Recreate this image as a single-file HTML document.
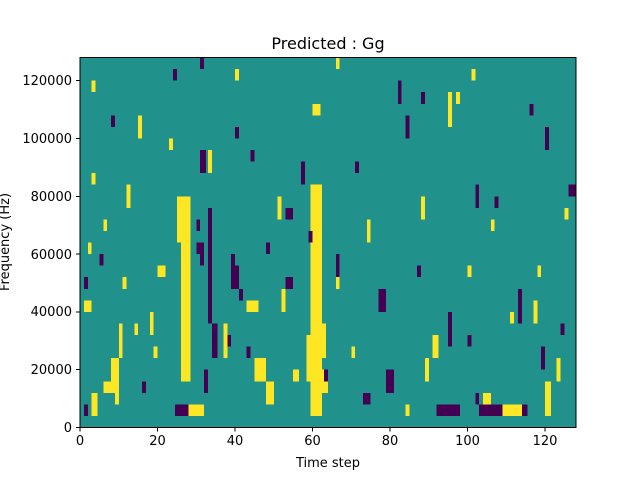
<!DOCTYPE html>
<html><head><style>
body{margin:0;background:#fff;width:640px;height:480px;overflow:hidden}
</style></head><body>
<svg width="640" height="480" xmlns="http://www.w3.org/2000/svg" font-family="DejaVu Sans, Liberation Sans, sans-serif">
<rect x="80" y="57.5" width="496" height="370" fill="#21918c"/>
<g transform="translate(80,57.5) scale(3.875,11.5625)" shape-rendering="crispEdges">
<g fill="#fde725">
<rect x="59.5" y="11" width="3" height="20"/>
<rect x="58.5" y="24" width="2" height="4"/>
<rect x="62" y="27" width="2" height="2"/>
<rect x="26" y="12" width="2.5" height="16"/>
<rect x="25" y="12" width="1" height="4"/>
<rect x="28" y="30" width="4" height="1"/>
<rect x="3" y="29" width="1.5" height="2"/>
<rect x="6" y="28" width="4" height="1"/>
<rect x="8" y="26" width="2" height="2"/>
<rect x="43" y="21" width="3" height="1"/>
<rect x="45" y="26" width="3" height="2"/>
<rect x="48" y="28" width="2" height="2"/>
<rect x="55" y="27" width="1.5" height="1"/>
<rect x="62" y="23" width="1.5" height="3"/>
<rect x="37" y="23" width="1" height="3"/>
<rect x="1" y="21" width="2" height="1"/>
<rect x="109" y="30" width="5" height="1"/>
<rect x="104" y="29" width="2" height="1"/>
<rect x="95" y="3" width="1" height="3"/>
<rect x="101" y="1" width="1" height="1"/>
<rect x="60" y="4" width="2" height="1"/>
<rect x="33" y="8" width="1" height="2"/>
<rect x="89" y="26" width="1" height="2"/>
<rect x="88" y="12" width="1" height="2"/>
<rect x="120" y="28" width="1.5" height="3"/>
<rect x="123" y="26" width="1" height="2"/>
<rect x="117" y="21" width="1" height="2"/>
<rect x="12" y="11" width="1" height="2"/>
<rect x="3" y="10" width="1" height="1"/>
<rect x="18" y="22" width="1" height="2"/>
<rect x="10" y="23" width="1" height="3"/>
<rect x="15" y="5" width="1" height="2"/>
<rect x="51" y="12" width="1" height="2"/>
<rect x="97" y="3" width="1" height="1"/>
<rect x="74" y="14" width="1" height="2"/>
<rect x="3" y="2" width="1" height="1"/>
<rect x="20" y="18" width="2" height="1"/>
<rect x="84" y="30" width="1" height="1"/>
<rect x="91" y="24" width="1.5" height="2"/>
<rect x="52" y="20" width="1" height="2"/>
<rect x="9" y="27" width="1" height="3"/>
<rect x="2" y="16" width="1" height="1"/>
<rect x="6" y="14" width="1" height="1"/>
<rect x="11" y="19" width="1" height="1"/>
<rect x="14" y="23" width="1" height="1"/>
<rect x="19" y="25" width="1" height="1"/>
<rect x="23" y="7" width="1" height="1"/>
<rect x="40" y="1" width="1" height="1"/>
<rect x="66" y="0" width="1" height="1"/>
<rect x="100" y="18" width="1" height="1"/>
<rect x="106" y="14" width="1" height="1"/>
<rect x="111" y="22" width="1" height="1"/>
<rect x="118" y="18" width="1" height="1"/>
<rect x="125" y="13" width="1" height="1"/>
<rect x="70" y="25" width="1" height="1"/>
<rect x="66" y="19" width="1" height="1"/>
</g>
<g fill="#440154">
<rect x="24.5" y="30" width="3.5" height="1"/>
<rect x="1" y="30" width="1" height="1"/>
<rect x="92" y="30" width="6" height="1"/>
<rect x="103" y="30" width="6" height="1"/>
<rect x="114" y="30" width="1.5" height="1"/>
<rect x="73" y="29" width="2" height="1"/>
<rect x="34" y="23" width="1.5" height="3"/>
<rect x="33" y="13" width="1" height="10"/>
<rect x="30" y="16" width="2" height="1"/>
<rect x="31" y="17" width="1" height="1"/>
<rect x="30" y="14" width="1" height="1"/>
<rect x="31" y="8" width="1.5" height="2"/>
<rect x="39" y="17" width="1" height="3"/>
<rect x="40" y="18" width="1" height="2"/>
<rect x="41" y="20" width="1" height="1"/>
<rect x="53" y="13" width="2" height="1"/>
<rect x="53" y="19" width="2" height="1"/>
<rect x="77" y="20" width="2" height="2"/>
<rect x="79" y="27" width="2" height="2"/>
<rect x="126" y="11" width="2" height="1"/>
<rect x="113" y="20" width="1" height="3"/>
<rect x="95" y="22" width="1" height="3"/>
<rect x="82" y="2" width="1" height="2"/>
<rect x="84" y="5" width="1" height="2"/>
<rect x="40" y="6" width="1" height="1"/>
<rect x="32" y="27" width="1" height="2"/>
<rect x="38" y="24" width="1" height="1"/>
<rect x="57" y="9" width="1" height="2"/>
<rect x="71" y="9" width="1" height="1"/>
<rect x="66" y="17" width="1" height="2"/>
<rect x="5" y="17" width="1" height="1"/>
<rect x="16" y="28" width="1" height="1"/>
<rect x="63" y="27" width="1" height="1"/>
<rect x="120" y="6" width="1" height="2"/>
<rect x="119" y="25" width="1" height="2"/>
<rect x="102" y="29" width="1" height="1"/>
<rect x="31" y="0" width="1" height="1"/>
<rect x="102" y="11" width="1" height="2"/>
<rect x="1" y="19" width="1" height="1"/>
<rect x="59" y="15" width="1" height="1"/>
<rect x="107" y="12" width="1" height="1"/>
<rect x="8" y="5" width="1" height="1"/>
<rect x="24" y="1" width="1" height="1"/>
<rect x="44" y="8" width="1" height="1"/>
<rect x="88" y="3" width="1" height="1"/>
<rect x="116" y="4" width="1" height="1"/>
<rect x="87" y="18" width="1" height="1"/>
<rect x="100" y="24" width="1" height="1"/>
<rect x="48" y="16" width="1" height="1"/>
<rect x="43" y="25" width="1" height="1"/>
<rect x="124" y="23" width="1" height="1"/>
</g>
</g>
<g stroke="#000" stroke-width="1" fill="none" shape-rendering="crispEdges">
<rect x="80" y="57.5" width="496" height="370"/>
<path d="M80 427.5v4M157.5 427.5v4M235 427.5v4M312.5 427.5v4M390 427.5v4M467.5 427.5v4M545 427.5v4"/>
<path d="M80 427.5h-4M80 369.7h-4M80 311.9h-4M80 254.1h-4M80 196.3h-4M80 138.5h-4M80 80.7h-4"/>
</g>
<g font-size="13" fill="#000" text-anchor="middle">
<text x="80" y="445">0</text><text x="157.5" y="445">20</text><text x="235" y="445">40</text><text x="312.5" y="445">60</text><text x="390" y="445">80</text><text x="467.5" y="445">100</text><text x="545" y="445">120</text>
<text x="328" y="467">Time step</text>
<text x="328" y="49" font-size="16">Predicted : Gg</text>
<text transform="translate(9,242) rotate(-90)">Frequency (Hz)</text>
</g>
<g font-size="13" fill="#000" text-anchor="end">
<text x="72" y="432">0</text><text x="72" y="374">20000</text><text x="72" y="316">40000</text><text x="72" y="259">60000</text><text x="72" y="201">80000</text><text x="72" y="143">100000</text><text x="72" y="85">120000</text>
</g>
</svg>
</body></html>
